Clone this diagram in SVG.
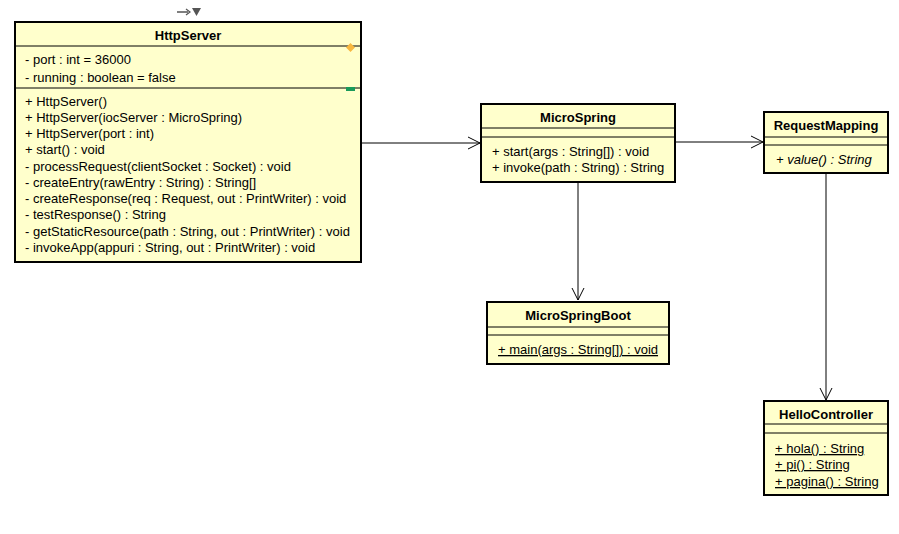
<svg xmlns="http://www.w3.org/2000/svg" width="899" height="534" viewBox="0 0 899 534">
<style>
.box{fill:#ffffcc;stroke:#000;stroke-width:2}
.sep{stroke:#000;stroke-width:1}
.t{font-family:"Liberation Sans",Arial,sans-serif;font-size:13px;fill:#000}
.b{font-weight:bold;text-anchor:middle}
.i{font-style:italic}
.u{text-decoration:underline}
.con{fill:none;stroke:#000;stroke-width:1}
</style>
<defs>
<marker id="open" markerWidth="14" markerHeight="14" refX="13" refY="7" orient="auto" markerUnits="userSpaceOnUse">
<path d="M1,1 L13,7 L1,13" fill="none" stroke="#000" stroke-width="1"/>
</marker>
</defs>
<rect width="899" height="534" fill="#fff"/>
<g id="connectors">
<line class="con" x1="362" y1="143" x2="480" y2="143" marker-end="url(#open)"/>
<line class="con" x1="676" y1="142" x2="763" y2="142" marker-end="url(#open)"/>
<line class="con" x1="578" y1="183" x2="578" y2="300" marker-end="url(#open)"/>
<line class="con" x1="826" y1="174" x2="826" y2="400" marker-end="url(#open)"/>
</g>
<g id="toolbar-icon">
<path d="M177,12 H188" stroke="#555" stroke-width="1.5"/>
<path d="M186,9 L190,12 L186,15" fill="none" stroke="#555" stroke-width="1.2"/>
<path d="M192,8 H201 L196.5,16 Z" fill="#555"/>
</g>
<g id="HttpServer">
<rect class="box" x="15" y="22" width="346" height="240"/>
<line class="sep" x1="15" y1="46" x2="361" y2="46"/>
<line class="sep" x1="15" y1="88" x2="361" y2="88"/>
<text class="t b" x="188" y="40">HttpServer</text>
<text class="t" x="25" y="64">- port : int = 36000</text>
<text class="t" x="25" y="82">- running : boolean = false</text>
<text class="t" x="25" y="106">+ HttpServer()</text>
<text class="t" x="25" y="122">+ HttpServer(iocServer : MicroSpring)</text>
<text class="t" x="25" y="138">+ HttpServer(port : int)</text>
<text class="t" x="25" y="154">+ start() : void</text>
<text class="t" x="25" y="171">- processRequest(clientSocket : Socket) : void</text>
<text class="t" x="25" y="187">- createEntry(rawEntry : String) : String[]</text>
<text class="t" x="25" y="203">- createResponse(req : Request, out : PrintWriter) : void</text>
<text class="t" x="25" y="219">- testResponse() : String</text>
<text class="t" x="25" y="236">- getStaticResource(path : String, out : PrintWriter) : void</text>
<text class="t" x="25" y="252">- invokeApp(appuri : String, out : PrintWriter) : void</text>
<path d="M350.5,43 L355,47.5 L350.5,52 L346,47.5 Z" fill="#f8b840"/>
<rect x="346" y="87" width="9" height="4" fill="#1a9a5a"/>
</g>
<g id="MicroSpring">
<rect class="box" x="481" y="104" width="194" height="78"/>
<line class="sep" x1="481" y1="128" x2="675" y2="128"/>
<line class="sep" x1="481" y1="137" x2="675" y2="137"/>
<text class="t b" x="578" y="122">MicroSpring</text>
<text class="t" x="492" y="156">+ start(args : String[]) : void</text>
<text class="t" x="492" y="172">+ invoke(path : String) : String</text>
</g>
<g id="RequestMapping">
<rect class="box" x="764" y="112" width="124" height="61"/>
<line class="sep" x1="764" y1="137" x2="888" y2="137"/>
<line class="sep" x1="764" y1="145" x2="888" y2="145"/>
<text class="t b" x="826" y="130">RequestMapping</text>
<text class="t i" x="776" y="164">+ value() : String</text>
</g>
<g id="MicroSpringBoot">
<rect class="box" x="487" y="302" width="182" height="62"/>
<line class="sep" x1="487" y1="327" x2="669" y2="327"/>
<line class="sep" x1="487" y1="335" x2="669" y2="335"/>
<text class="t b" x="578" y="320">MicroSpringBoot</text>
<text class="t u" x="498" y="354">+ main(args : String[]) : void</text>
</g>
<g id="HelloController">
<rect class="box" x="764" y="401" width="124" height="94"/>
<line class="sep" x1="764" y1="424" x2="888" y2="424"/>
<line class="sep" x1="764" y1="433" x2="888" y2="433"/>
<text class="t b" x="826" y="419">HelloController</text>
<text class="t u" x="775" y="453">+ hola() : String</text>
<text class="t u" x="775" y="469">+ pi() : String</text>
<text class="t u" x="775" y="486">+ pagina() : String</text>
</g>
</svg>
